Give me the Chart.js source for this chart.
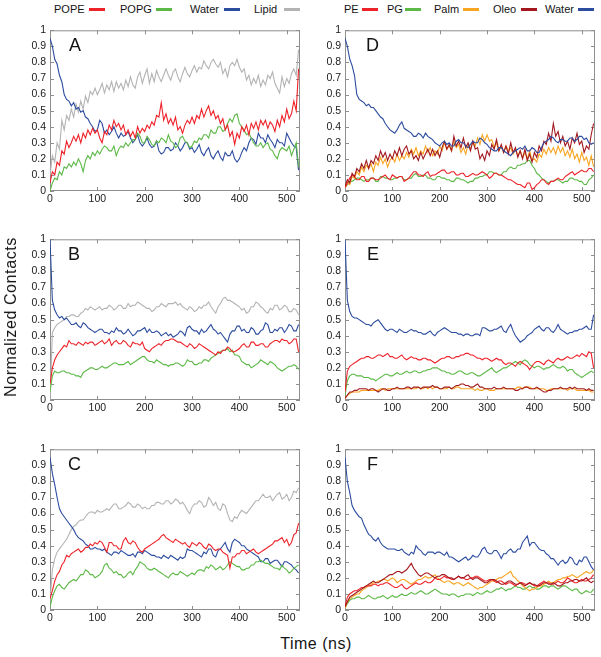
<!DOCTYPE html>
<html>
<head>
<meta charset="utf-8">
<script src="https://cdn.jsdelivr.net/npm/chart.js@4.4.1/dist/chart.umd.min.js"></script>
<style>
  body { margin:0; background:#fff; }
  #page { position:relative; width:601px; height:657px; font-family:"Liberation Sans", Arial, sans-serif; color:#141414; }
  canvas { position:absolute; }
  .lg { position:absolute; top:2px; font-size:11px; line-height:14px; white-space:nowrap; }
  .sw { position:absolute; top:8px; width:16px; height:3px; }
  .tag { position:absolute; font-size:18px; line-height:18px; }
</style>
</head>
<body>
<div id="page">
  <span class="lg" style="left:54px">POPE</span><span class="sw" style="left:89px;background:#ee2229"></span>
  <span class="lg" style="left:120px">POPG</span><span class="sw" style="left:156px;background:#5db947"></span>
  <span class="lg" style="left:190px">Water</span><span class="sw" style="left:224px;background:#2c4c9f"></span>
  <span class="lg" style="left:254px">Lipid</span><span class="sw" style="left:284px;background:#b3b3b3"></span>

  <span class="lg" style="left:344px">PE</span><span class="sw" style="left:362px;background:#ee2229"></span>
  <span class="lg" style="left:387px">PG</span><span class="sw" style="left:405px;background:#5db947"></span>
  <span class="lg" style="left:434px">Palm</span><span class="sw" style="left:463px;background:#f8a521"></span>
  <span class="lg" style="left:493px">Oleo</span><span class="sw" style="left:521px;background:#a3181e"></span>
  <span class="lg" style="left:545px">Water</span><span class="sw" style="left:578px;background:#2c4c9f"></span>

  <canvas id="cA" width="305" height="191" style="left:0;top:20px"></canvas>
  <canvas id="cB" width="305" height="191" style="left:0;top:229px"></canvas>
  <canvas id="cC" width="305" height="191" style="left:0;top:439px"></canvas>
  <canvas id="cD" width="305" height="191" style="left:295px;top:20px"></canvas>
  <canvas id="cE" width="305" height="191" style="left:295px;top:229px"></canvas>
  <canvas id="cF" width="305" height="191" style="left:295px;top:439px"></canvas>

  <div class="tag" style="left:69px;top:36px">A</div>
  <div class="tag" style="left:68px;top:245px">B</div>
  <div class="tag" style="left:68px;top:455px">C</div>
  <div class="tag" style="left:366px;top:36px">D</div>
  <div class="tag" style="left:367px;top:245px">E</div>
  <div class="tag" style="left:367px;top:455px">F</div>

  <div style="position:absolute;left:11px;top:317px;transform:translate(-50%,-50%) rotate(-90deg);font-size:16px;letter-spacing:0.6px;white-space:nowrap">Normalized Contacts</div>
  <div style="position:absolute;left:316px;top:644px;transform:translate(-50%,-50%);font-size:16px;letter-spacing:0.5px;white-space:nowrap">Time (ns)</div>
</div>
<script>
// time axis, ns (one sample every 5 ns)
const times = Array.from({length: 106}, (_, i) => i * 5);
const xTicks = [0, 100, 200, 300, 400, 500];

// panel A
const aPOPE = [0.05,0.12,0.1,0.18,0.16,0.25,0.23,0.31,0.27,0.3,
  0.34,0.31,0.35,0.3,0.36,0.33,0.38,0.35,0.39,0.36,
  0.38,0.33,0.3,0.37,0.35,0.41,0.38,0.44,0.4,0.42,
  0.38,0.41,0.35,0.38,0.34,0.37,0.33,0.4,0.36,0.39,
  0.37,0.41,0.39,0.43,0.41,0.47,0.46,0.55,0.44,0.48,
  0.42,0.45,0.41,0.46,0.38,0.4,0.36,0.41,0.44,0.42,
  0.46,0.42,0.47,0.45,0.51,0.46,0.5,0.53,0.47,0.5,
  0.45,0.47,0.42,0.45,0.38,0.41,0.34,0.37,0.29,0.36,
  0.33,0.4,0.37,0.41,0.35,0.42,0.39,0.43,0.38,0.44,
  0.41,0.44,0.39,0.43,0.41,0.37,0.44,0.4,0.47,0.43,
  0.51,0.45,0.48,0.56,0.5,0.76];
const aPOPG = [0,0.05,0.08,0.07,0.12,0.1,0.15,0.14,0.17,0.15,
  0.18,0.16,0.2,0.17,0.12,0.19,0.22,0.2,0.24,0.22,
  0.25,0.23,0.26,0.28,0.27,0.25,0.25,0.28,0.22,0.26,
  0.28,0.27,0.3,0.28,0.3,0.32,0.32,0.36,0.34,0.3,
  0.3,0.34,0.32,0.29,0.28,0.31,0.3,0.33,0.32,0.3,
  0.35,0.31,0.3,0.27,0.28,0.33,0.34,0.31,0.3,0.27,
  0.28,0.31,0.3,0.33,0.32,0.35,0.35,0.33,0.38,0.36,
  0.36,0.4,0.4,0.37,0.38,0.42,0.45,0.43,0.47,0.48,
  0.42,0.4,0.38,0.35,0.36,0.33,0.3,0.28,0.28,0.3,
  0.27,0.29,0.3,0.26,0.25,0.22,0.2,0.25,0.27,0.26,
  0.25,0.28,0.22,0.26,0.3,0.15];
const aWater = [0.95,0.9,0.82,0.79,0.72,0.68,0.6,0.57,0.56,0.53,
  0.55,0.51,0.52,0.49,0.5,0.46,0.45,0.42,0.4,0.37,
  0.38,0.44,0.42,0.36,0.38,0.35,0.37,0.4,0.36,0.33,
  0.36,0.34,0.35,0.37,0.33,0.3,0.32,0.35,0.3,0.28,
  0.3,0.33,0.29,0.27,0.28,0.31,0.25,0.23,0.24,0.27,
  0.27,0.25,0.26,0.3,0.28,0.25,0.27,0.3,0.3,0.26,
  0.27,0.24,0.26,0.29,0.24,0.22,0.25,0.27,0.22,0.2,
  0.23,0.25,0.21,0.19,0.24,0.22,0.22,0.25,0.2,0.18,
  0.2,0.24,0.27,0.25,0.3,0.33,0.32,0.29,0.36,0.33,
  0.33,0.3,0.35,0.32,0.3,0.27,0.32,0.3,0.3,0.28,
  0.36,0.33,0.3,0.28,0.27,0.13];
const aLipid = [0.1,0.22,0.18,0.3,0.26,0.44,0.38,0.47,0.44,0.51,
  0.46,0.54,0.49,0.56,0.51,0.59,0.55,0.62,0.6,0.64,
  0.6,0.63,0.67,0.61,0.66,0.63,0.68,0.62,0.68,0.64,
  0.67,0.63,0.69,0.65,0.71,0.66,0.64,0.71,0.74,0.67,
  0.72,0.76,0.67,0.73,0.68,0.75,0.71,0.68,0.72,0.76,
  0.72,0.69,0.74,0.76,0.71,0.68,0.73,0.77,0.73,0.71,
  0.75,0.78,0.74,0.77,0.76,0.81,0.78,0.76,0.8,0.82,
  0.79,0.77,0.8,0.73,0.76,0.71,0.78,0.8,0.78,0.82,
  0.77,0.74,0.76,0.69,0.72,0.66,0.7,0.67,0.72,0.65,
  0.69,0.66,0.72,0.7,0.74,0.67,0.64,0.61,0.71,0.65,
  0.7,0.67,0.73,0.76,0.72,0.88];

// panel B
const bPOPE = [0.1,0.2,0.25,0.28,0.3,0.32,0.34,0.33,0.37,0.35,
  0.35,0.34,0.36,0.35,0.34,0.36,0.35,0.36,0.36,0.34,
  0.35,0.36,0.37,0.35,0.36,0.38,0.34,0.36,0.37,0.35,
  0.35,0.37,0.36,0.34,0.33,0.36,0.35,0.35,0.34,0.36,
  0.32,0.31,0.3,0.32,0.33,0.34,0.35,0.34,0.36,0.37,
  0.37,0.38,0.38,0.37,0.36,0.36,0.35,0.34,0.33,0.35,
  0.34,0.32,0.33,0.35,0.34,0.33,0.32,0.31,0.3,0.29,
  0.28,0.3,0.29,0.31,0.31,0.33,0.32,0.3,0.3,0.31,
  0.32,0.34,0.35,0.33,0.33,0.36,0.36,0.34,0.34,0.35,
  0.35,0.33,0.33,0.35,0.36,0.37,0.37,0.36,0.38,0.37,
  0.37,0.35,0.36,0.38,0.38,0.3];
const bPOPG = [0.05,0.15,0.18,0.17,0.17,0.18,0.18,0.17,0.17,0.16,
  0.16,0.15,0.15,0.14,0.17,0.18,0.19,0.2,0.2,0.19,
  0.19,0.2,0.21,0.2,0.2,0.21,0.22,0.23,0.23,0.22,
  0.22,0.22,0.23,0.24,0.22,0.23,0.24,0.25,0.26,0.27,
  0.27,0.25,0.24,0.24,0.23,0.25,0.24,0.23,0.22,0.22,
  0.21,0.22,0.22,0.23,0.23,0.22,0.21,0.22,0.25,0.24,
  0.24,0.22,0.22,0.23,0.23,0.25,0.25,0.24,0.26,0.27,
  0.28,0.29,0.3,0.31,0.31,0.32,0.3,0.31,0.28,0.28,
  0.27,0.24,0.23,0.22,0.22,0.2,0.21,0.22,0.23,0.25,
  0.24,0.23,0.22,0.24,0.23,0.22,0.2,0.19,0.18,0.19,
  0.2,0.21,0.21,0.22,0.21,0.19];
const bWater = [1,0.62,0.56,0.53,0.51,0.52,0.5,0.51,0.49,0.47,
  0.47,0.48,0.46,0.45,0.48,0.47,0.45,0.44,0.43,0.42,
  0.43,0.44,0.44,0.42,0.42,0.41,0.43,0.42,0.45,0.43,
  0.43,0.41,0.42,0.44,0.42,0.4,0.41,0.43,0.43,0.44,
  0.45,0.42,0.44,0.42,0.42,0.43,0.42,0.4,0.41,0.42,
  0.4,0.41,0.39,0.4,0.41,0.43,0.42,0.4,0.45,0.46,
  0.44,0.43,0.43,0.41,0.44,0.42,0.43,0.45,0.47,0.44,
  0.43,0.41,0.42,0.4,0.38,0.36,0.41,0.43,0.43,0.46,
  0.46,0.43,0.44,0.42,0.42,0.45,0.44,0.41,0.41,0.43,
  0.44,0.48,0.47,0.42,0.42,0.44,0.43,0.45,0.45,0.42,
  0.44,0.47,0.46,0.43,0.43,0.47];
const bLipid = [0,0.42,0.45,0.47,0.48,0.49,0.5,0.52,0.52,0.53,
  0.53,0.52,0.52,0.54,0.55,0.57,0.56,0.58,0.57,0.56,
  0.57,0.58,0.56,0.57,0.57,0.59,0.58,0.56,0.57,0.59,
  0.59,0.57,0.57,0.6,0.58,0.59,0.59,0.61,0.6,0.59,
  0.58,0.57,0.57,0.55,0.56,0.58,0.58,0.6,0.59,0.58,
  0.6,0.6,0.6,0.61,0.59,0.6,0.58,0.57,0.56,0.58,
  0.57,0.55,0.56,0.58,0.57,0.59,0.59,0.61,0.58,0.56,
  0.54,0.58,0.6,0.63,0.64,0.62,0.62,0.61,0.6,0.59,
  0.58,0.56,0.57,0.54,0.55,0.58,0.58,0.61,0.6,0.58,
  0.57,0.55,0.54,0.57,0.56,0.59,0.59,0.56,0.57,0.59,
  0.58,0.55,0.55,0.57,0.56,0.53];

// panel C
const cPOPE = [0.07,0.12,0.18,0.22,0.24,0.28,0.3,0.34,0.33,0.35,
  0.36,0.37,0.38,0.36,0.37,0.39,0.39,0.41,0.4,0.42,
  0.41,0.43,0.42,0.39,0.36,0.42,0.42,0.4,0.4,0.38,
  0.38,0.43,0.45,0.42,0.41,0.43,0.42,0.39,0.37,0.36,
  0.38,0.39,0.4,0.41,0.42,0.43,0.44,0.46,0.47,0.45,
  0.44,0.43,0.42,0.44,0.43,0.42,0.41,0.42,0.4,0.39,
  0.42,0.41,0.4,0.42,0.41,0.39,0.38,0.41,0.4,0.38,
  0.37,0.38,0.38,0.36,0.35,0.34,0.26,0.33,0.33,0.35,
  0.35,0.37,0.37,0.35,0.36,0.37,0.38,0.36,0.35,0.36,
  0.37,0.38,0.39,0.4,0.41,0.43,0.43,0.44,0.45,0.42,
  0.44,0.4,0.42,0.47,0.48,0.54];
const cPOPG = [0.02,0.08,0.12,0.15,0.16,0.14,0.13,0.15,0.17,0.18,
  0.19,0.18,0.2,0.22,0.22,0.25,0.24,0.22,0.22,0.2,
  0.21,0.22,0.24,0.28,0.29,0.26,0.25,0.23,0.24,0.22,
  0.22,0.2,0.21,0.23,0.24,0.22,0.25,0.27,0.3,0.29,
  0.28,0.26,0.25,0.25,0.26,0.25,0.24,0.23,0.22,0.21,
  0.2,0.22,0.23,0.22,0.22,0.24,0.23,0.22,0.21,0.22,
  0.23,0.22,0.24,0.25,0.25,0.24,0.27,0.26,0.28,0.27,
  0.25,0.26,0.27,0.25,0.26,0.28,0.3,0.29,0.28,0.27,
  0.27,0.25,0.25,0.26,0.26,0.28,0.28,0.3,0.3,0.31,
  0.3,0.29,0.29,0.28,0.27,0.26,0.26,0.25,0.28,0.26,
  0.25,0.23,0.24,0.26,0.27,0.28];
const cWater = [0.95,0.85,0.78,0.7,0.63,0.6,0.58,0.56,0.54,0.52,
  0.5,0.47,0.45,0.44,0.43,0.41,0.4,0.38,0.38,0.39,
  0.38,0.38,0.37,0.38,0.36,0.35,0.34,0.36,0.36,0.35,
  0.37,0.36,0.35,0.34,0.34,0.35,0.33,0.36,0.36,0.35,
  0.37,0.36,0.35,0.34,0.34,0.33,0.33,0.32,0.34,0.33,
  0.32,0.34,0.33,0.32,0.31,0.33,0.32,0.33,0.38,0.37,
  0.37,0.36,0.35,0.34,0.33,0.36,0.35,0.38,0.38,0.34,
  0.33,0.37,0.38,0.4,0.42,0.38,0.36,0.42,0.44,0.43,
  0.42,0.4,0.4,0.38,0.37,0.36,0.35,0.34,0.33,0.3,
  0.3,0.32,0.32,0.29,0.3,0.31,0.31,0.29,0.27,0.3,
  0.3,0.29,0.28,0.26,0.25,0.23];
const cLipid = [0.05,0.25,0.32,0.36,0.38,0.4,0.42,0.44,0.47,0.5,
  0.52,0.53,0.55,0.56,0.56,0.58,0.6,0.61,0.61,0.6,
  0.62,0.61,0.61,0.62,0.63,0.62,0.64,0.66,0.66,0.63,
  0.63,0.64,0.65,0.67,0.66,0.64,0.64,0.66,0.65,0.63,
  0.64,0.63,0.63,0.65,0.65,0.67,0.67,0.66,0.66,0.68,
  0.68,0.66,0.67,0.69,0.68,0.66,0.67,0.65,0.62,0.6,
  0.64,0.66,0.66,0.68,0.67,0.64,0.65,0.7,0.68,0.65,
  0.67,0.63,0.62,0.66,0.65,0.6,0.56,0.55,0.58,0.57,
  0.6,0.62,0.61,0.6,0.62,0.64,0.66,0.68,0.68,0.7,
  0.72,0.7,0.7,0.71,0.68,0.7,0.72,0.73,0.69,0.7,
  0.72,0.68,0.7,0.74,0.73,0.76];

// panel D
const dPE = [0.02,0.05,0.08,0.1,0.09,0.07,0.07,0.09,0.09,0.06,
  0.06,0.08,0.08,0.07,0.07,0.08,0.09,0.1,0.08,0.07,
  0.1,0.09,0.08,0.09,0.09,0.06,0.07,0.08,0.1,0.12,
  0.12,0.1,0.1,0.09,0.11,0.12,0.09,0.1,0.1,0.11,
  0.12,0.13,0.13,0.11,0.11,0.12,0.12,0.1,0.1,0.11,
  0.11,0.09,0.09,0.1,0.11,0.1,0.1,0.11,0.12,0.11,
  0.1,0.08,0.09,0.11,0.11,0.1,0.1,0.09,0.08,0.07,
  0.07,0.06,0.05,0.04,0.04,0.03,0.02,0.05,0.05,0.01,
  0.02,0.04,0.05,0.07,0.07,0.05,0.04,0.06,0.06,0.07,
  0.08,0.07,0.07,0.09,0.1,0.11,0.12,0.1,0.11,0.12,
  0.13,0.12,0.12,0.14,0.14,0.12];
const dPG = [0.02,0.04,0.06,0.06,0.07,0.08,0.08,0.07,0.06,0.07,
  0.07,0.08,0.08,0.06,0.06,0.09,0.09,0.08,0.08,0.07,
  0.07,0.08,0.08,0.09,0.09,0.07,0.07,0.08,0.08,0.1,
  0.11,0.09,0.09,0.1,0.1,0.08,0.08,0.07,0.07,0.09,
  0.09,0.08,0.08,0.07,0.07,0.06,0.06,0.08,0.08,0.07,
  0.07,0.06,0.05,0.06,0.06,0.08,0.08,0.09,0.09,0.1,
  0.1,0.12,0.12,0.11,0.11,0.1,0.1,0.12,0.12,0.14,
  0.15,0.14,0.14,0.16,0.16,0.17,0.17,0.19,0.19,0.16,
  0.14,0.11,0.1,0.08,0.07,0.06,0.05,0.06,0.06,0.07,
  0.07,0.06,0.05,0.06,0.06,0.08,0.08,0.07,0.07,0.06,
  0.06,0.04,0.04,0.07,0.08,0.1];
const dPalm = [0.02,0.05,0.04,0.09,0.08,0.12,0.1,0.15,0.12,0.16,
  0.14,0.17,0.12,0.18,0.16,0.21,0.17,0.2,0.15,0.19,
  0.21,0.18,0.23,0.19,0.22,0.2,0.24,0.21,0.26,0.23,
  0.27,0.22,0.25,0.23,0.28,0.24,0.27,0.22,0.25,0.23,
  0.28,0.25,0.3,0.26,0.28,0.25,0.31,0.27,0.29,0.24,
  0.27,0.23,0.29,0.26,0.31,0.28,0.33,0.29,0.35,0.31,
  0.35,0.31,0.32,0.27,0.3,0.25,0.28,0.24,0.28,0.25,
  0.27,0.23,0.26,0.22,0.25,0.21,0.24,0.2,0.25,0.19,
  0.2,0.18,0.23,0.21,0.26,0.23,0.27,0.24,0.27,0.23,
  0.28,0.24,0.27,0.22,0.25,0.21,0.26,0.2,0.23,0.18,
  0.24,0.19,0.21,0.16,0.22,0.15];
const dOleo = [0.03,0.07,0.05,0.11,0.09,0.14,0.12,0.17,0.14,0.19,
  0.14,0.19,0.17,0.22,0.19,0.25,0.21,0.24,0.19,0.23,
  0.2,0.25,0.22,0.27,0.22,0.26,0.28,0.23,0.25,0.2,
  0.22,0.19,0.24,0.2,0.23,0.26,0.22,0.26,0.22,0.25,
  0.21,0.27,0.31,0.26,0.29,0.25,0.34,0.28,0.31,0.27,
  0.33,0.27,0.3,0.25,0.31,0.26,0.27,0.2,0.23,0.19,
  0.25,0.22,0.29,0.26,0.32,0.25,0.29,0.24,0.28,0.23,
  0.3,0.24,0.27,0.21,0.25,0.2,0.26,0.19,0.23,0.18,
  0.24,0.21,0.28,0.25,0.31,0.29,0.36,0.31,0.42,0.34,
  0.37,0.3,0.34,0.28,0.31,0.26,0.33,0.3,0.36,0.29,
  0.31,0.24,0.28,0.26,0.35,0.42];
const dWater = [0.95,0.9,0.82,0.78,0.72,0.6,0.57,0.56,0.55,0.53,
  0.54,0.52,0.52,0.5,0.48,0.46,0.45,0.42,0.4,0.38,
  0.37,0.36,0.38,0.41,0.43,0.39,0.38,0.37,0.36,0.34,
  0.34,0.36,0.35,0.33,0.36,0.34,0.33,0.32,0.3,0.29,
  0.28,0.3,0.31,0.29,0.3,0.28,0.28,0.31,0.32,0.3,
  0.3,0.28,0.27,0.29,0.31,0.3,0.3,0.33,0.32,0.3,
  0.29,0.27,0.26,0.25,0.25,0.27,0.27,0.25,0.24,0.23,
  0.22,0.24,0.25,0.26,0.27,0.26,0.28,0.25,0.25,0.27,
  0.26,0.24,0.24,0.27,0.3,0.31,0.32,0.34,0.33,0.31,
  0.3,0.32,0.32,0.31,0.31,0.33,0.33,0.31,0.32,0.34,
  0.34,0.32,0.33,0.3,0.29,0.3];

// panel E
const ePE = [0.05,0.18,0.21,0.22,0.23,0.24,0.25,0.26,0.26,0.27,
  0.27,0.26,0.26,0.27,0.28,0.28,0.27,0.28,0.29,0.27,
  0.27,0.26,0.26,0.27,0.28,0.26,0.25,0.26,0.27,0.26,
  0.26,0.25,0.25,0.26,0.26,0.25,0.25,0.24,0.23,0.24,
  0.25,0.26,0.26,0.27,0.27,0.26,0.26,0.27,0.27,0.28,
  0.28,0.29,0.29,0.28,0.28,0.27,0.26,0.26,0.25,0.26,
  0.26,0.25,0.24,0.25,0.26,0.25,0.25,0.23,0.22,0.23,
  0.23,0.22,0.21,0.23,0.24,0.23,0.22,0.21,0.19,0.21,
  0.23,0.24,0.24,0.23,0.22,0.24,0.25,0.24,0.23,0.25,
  0.26,0.25,0.25,0.26,0.27,0.26,0.26,0.27,0.28,0.27,
  0.29,0.28,0.27,0.3,0.29,0.2];
const ePG = [0.03,0.12,0.15,0.16,0.16,0.15,0.15,0.15,0.14,0.14,
  0.14,0.13,0.13,0.12,0.13,0.14,0.15,0.16,0.16,0.15,
  0.15,0.16,0.17,0.16,0.16,0.17,0.18,0.17,0.17,0.18,
  0.18,0.17,0.17,0.18,0.18,0.19,0.19,0.2,0.2,0.2,
  0.19,0.18,0.18,0.17,0.17,0.16,0.16,0.17,0.18,0.18,
  0.17,0.16,0.16,0.17,0.17,0.16,0.15,0.15,0.16,0.17,
  0.18,0.19,0.2,0.18,0.17,0.18,0.19,0.2,0.2,0.21,
  0.22,0.23,0.24,0.23,0.22,0.24,0.25,0.24,0.22,0.21,
  0.2,0.21,0.21,0.2,0.19,0.2,0.2,0.21,0.22,0.21,
  0.2,0.2,0.21,0.2,0.18,0.19,0.19,0.17,0.16,0.15,
  0.14,0.15,0.16,0.17,0.18,0.17];
const ePalm = [0.01,0.03,0.04,0.05,0.05,0.05,0.05,0.06,0.06,0.06,
  0.06,0.06,0.06,0.06,0.06,0.07,0.07,0.06,0.07,0.07,
  0.07,0.07,0.07,0.07,0.07,0.07,0.07,0.07,0.07,0.07,
  0.07,0.08,0.07,0.07,0.08,0.07,0.08,0.07,0.08,0.08,
  0.07,0.07,0.07,0.07,0.08,0.07,0.07,0.08,0.08,0.07,
  0.07,0.07,0.07,0.07,0.07,0.06,0.07,0.06,0.06,0.07,
  0.07,0.06,0.06,0.06,0.07,0.07,0.07,0.07,0.07,0.07,
  0.07,0.07,0.07,0.08,0.08,0.07,0.08,0.08,0.08,0.07,
  0.07,0.07,0.07,0.07,0.07,0.06,0.06,0.07,0.07,0.07,
  0.07,0.07,0.07,0.07,0.06,0.07,0.07,0.07,0.06,0.06,
  0.06,0.06,0.06,0.06,0.05,0.05];
const eOleo = [0.01,0.03,0.05,0.05,0.06,0.06,0.07,0.07,0.07,0.07,
  0.06,0.07,0.07,0.06,0.05,0.06,0.07,0.07,0.06,0.06,
  0.07,0.07,0.08,0.07,0.07,0.07,0.08,0.08,0.07,0.08,
  0.08,0.08,0.07,0.08,0.08,0.08,0.08,0.09,0.08,0.08,
  0.07,0.07,0.08,0.08,0.08,0.07,0.08,0.09,0.09,0.1,
  0.1,0.09,0.09,0.08,0.08,0.09,0.1,0.08,0.08,0.07,
  0.07,0.07,0.07,0.08,0.07,0.07,0.07,0.08,0.07,0.07,
  0.07,0.07,0.06,0.06,0.07,0.07,0.08,0.08,0.07,0.07,
  0.07,0.08,0.07,0.06,0.05,0.05,0.06,0.06,0.07,0.07,
  0.07,0.08,0.07,0.07,0.07,0.08,0.07,0.08,0.07,0.07,
  0.07,0.07,0.06,0.07,0.06,0.06];
const eWater = [1,0.62,0.55,0.52,0.51,0.51,0.5,0.49,0.48,0.47,
  0.47,0.46,0.48,0.49,0.5,0.48,0.46,0.44,0.43,0.44,
  0.44,0.43,0.42,0.44,0.43,0.42,0.42,0.43,0.44,0.43,
  0.43,0.42,0.42,0.41,0.41,0.42,0.43,0.41,0.4,0.42,
  0.43,0.44,0.45,0.44,0.43,0.42,0.42,0.42,0.41,0.41,
  0.4,0.41,0.41,0.4,0.4,0.41,0.41,0.4,0.45,0.45,
  0.44,0.43,0.43,0.44,0.44,0.45,0.46,0.43,0.42,0.45,
  0.47,0.43,0.4,0.38,0.36,0.37,0.38,0.4,0.41,0.42,
  0.44,0.45,0.46,0.44,0.43,0.45,0.45,0.43,0.42,0.44,
  0.47,0.44,0.43,0.42,0.41,0.42,0.42,0.43,0.43,0.44,
  0.44,0.45,0.46,0.44,0.44,0.53];

// panel F
const fPE = [0.02,0.08,0.1,0.11,0.12,0.12,0.13,0.14,0.14,0.15,
  0.15,0.15,0.16,0.16,0.15,0.16,0.16,0.17,0.17,0.16,
  0.15,0.14,0.14,0.15,0.16,0.14,0.13,0.14,0.15,0.16,
  0.17,0.16,0.16,0.17,0.18,0.17,0.17,0.18,0.2,0.19,
  0.19,0.2,0.21,0.2,0.2,0.19,0.19,0.2,0.21,0.2,
  0.2,0.19,0.19,0.2,0.2,0.21,0.21,0.2,0.19,0.18,
  0.18,0.19,0.19,0.18,0.17,0.18,0.18,0.17,0.16,0.17,
  0.17,0.16,0.15,0.16,0.17,0.17,0.16,0.16,0.17,0.16,
  0.15,0.15,0.16,0.17,0.18,0.17,0.17,0.16,0.16,0.17,
  0.18,0.17,0.17,0.18,0.2,0.19,0.18,0.17,0.17,0.18,
  0.19,0.18,0.18,0.19,0.2,0.22];
const fPG = [0.01,0.04,0.06,0.07,0.07,0.08,0.08,0.07,0.07,0.08,
  0.09,0.08,0.07,0.07,0.08,0.08,0.09,0.08,0.07,0.08,
  0.09,0.08,0.08,0.09,0.1,0.09,0.09,0.1,0.11,0.1,
  0.1,0.11,0.12,0.11,0.1,0.1,0.11,0.12,0.13,0.12,
  0.11,0.1,0.1,0.1,0.09,0.1,0.1,0.09,0.08,0.09,
  0.09,0.1,0.1,0.1,0.09,0.1,0.11,0.1,0.1,0.11,
  0.12,0.11,0.11,0.12,0.13,0.13,0.14,0.13,0.12,0.13,
  0.13,0.14,0.15,0.14,0.14,0.13,0.13,0.14,0.15,0.14,
  0.14,0.13,0.13,0.14,0.15,0.15,0.14,0.15,0.15,0.14,
  0.13,0.14,0.15,0.15,0.14,0.13,0.12,0.13,0.13,0.11,
  0.1,0.11,0.12,0.11,0.11,0.13];
const fPalm = [0.01,0.05,0.07,0.08,0.09,0.1,0.1,0.12,0.13,0.14,
  0.15,0.16,0.17,0.17,0.18,0.18,0.19,0.19,0.18,0.19,
  0.2,0.19,0.17,0.18,0.19,0.19,0.18,0.17,0.16,0.17,
  0.18,0.19,0.19,0.2,0.21,0.2,0.2,0.21,0.22,0.2,
  0.19,0.18,0.17,0.18,0.18,0.17,0.16,0.17,0.17,0.16,
  0.15,0.16,0.17,0.16,0.15,0.14,0.13,0.14,0.14,0.15,
  0.16,0.17,0.18,0.18,0.19,0.2,0.2,0.21,0.22,0.23,
  0.24,0.21,0.2,0.18,0.17,0.15,0.14,0.13,0.12,0.13,
  0.13,0.14,0.15,0.15,0.16,0.17,0.18,0.17,0.17,0.18,
  0.19,0.19,0.2,0.2,0.21,0.21,0.22,0.21,0.2,0.21,
  0.22,0.23,0.24,0.23,0.23,0.25];
const fOleo = [0.02,0.05,0.08,0.09,0.1,0.11,0.12,0.13,0.14,0.15,
  0.16,0.17,0.18,0.17,0.17,0.18,0.19,0.2,0.21,0.22,
  0.22,0.23,0.24,0.24,0.23,0.24,0.25,0.27,0.29,0.26,
  0.24,0.22,0.21,0.22,0.23,0.23,0.22,0.21,0.2,0.21,
  0.21,0.22,0.22,0.21,0.2,0.2,0.19,0.2,0.21,0.2,
  0.2,0.21,0.22,0.2,0.19,0.2,0.2,0.19,0.18,0.17,
  0.17,0.18,0.19,0.19,0.18,0.17,0.16,0.16,0.17,0.18,
  0.18,0.17,0.16,0.16,0.17,0.16,0.15,0.16,0.17,0.16,
  0.16,0.15,0.15,0.16,0.17,0.17,0.16,0.16,0.17,0.16,
  0.15,0.15,0.16,0.17,0.17,0.18,0.18,0.19,0.19,0.18,
  0.18,0.19,0.2,0.18,0.17,0.18];
const fWater = [0.95,0.8,0.73,0.65,0.62,0.6,0.58,0.57,0.53,0.5,
  0.47,0.46,0.44,0.43,0.45,0.42,0.4,0.39,0.38,0.38,
  0.38,0.38,0.37,0.37,0.38,0.36,0.35,0.34,0.36,0.35,
  0.4,0.38,0.37,0.35,0.34,0.36,0.36,0.36,0.35,0.36,
  0.36,0.35,0.34,0.36,0.33,0.33,0.32,0.31,0.3,0.31,
  0.32,0.33,0.31,0.32,0.34,0.33,0.33,0.35,0.38,0.39,
  0.36,0.35,0.35,0.37,0.37,0.35,0.32,0.35,0.35,0.37,
  0.38,0.36,0.36,0.38,0.38,0.42,0.44,0.46,0.4,0.42,
  0.42,0.4,0.38,0.37,0.37,0.35,0.34,0.32,0.32,0.3,
  0.28,0.3,0.31,0.29,0.3,0.33,0.32,0.29,0.28,0.31,
  0.3,0.33,0.33,0.3,0.27,0.25];

const RED = '#ee2229', GREEN = '#5db947', BLUE = '#2c4c9f', GREY = '#b3b3b3', ORANGE = '#f8a521', DARKRED = '#a3181e';

// box round the plot with short inward ticks on all four sides
const framePlugin = {
  id: 'frame',
  beforeDatasetsDraw(chart) {
    const { ctx, chartArea: { left, right, top, bottom }, scales: { x, y } } = chart;
    ctx.save();
    ctx.strokeStyle = '#8e8e8e';
    ctx.lineWidth = 1;
    ctx.strokeRect(left + 0.5, top + 0.5, right - left - 1, bottom - top - 1);
    ctx.beginPath();
    x.ticks.forEach(t => {
      const px = Math.round(x.getPixelForValue(t.value)) + 0.5;
      ctx.moveTo(px, bottom); ctx.lineTo(px, bottom - 4);
      ctx.moveTo(px, top); ctx.lineTo(px, top + 4);
    });
    y.ticks.forEach(t => {
      const py = Math.round(y.getPixelForValue(t.value)) + 0.5;
      ctx.moveTo(left, py); ctx.lineTo(left + 4, py);
      ctx.moveTo(right, py); ctx.lineTo(right - 4, py);
    });
    ctx.stroke();
    ctx.restore();
  }
};

function line(values, color) {
  return {
    data: values.map((v, i) => ({ x: times[i], y: v })),
    borderColor: color,
    borderWidth: 1.1,
    pointRadius: 0,
    tension: 0,
    fill: false
  };
}

function panel(id, datasets) {
  new Chart(document.getElementById(id), {
    type: 'line',
    data: { datasets: datasets },
    options: {
      responsive: false,
      animation: false,
      layout: { padding: { top: 8, right: 5, left: 0, bottom: 0 } },
      plugins: { legend: { display: false }, tooltip: { enabled: false } },
      scales: {
        x: {
          type: 'linear', min: 0, max: 528,
          grid: { display: false, drawTicks: false },
          border: { display: false },
          afterBuildTicks: s => { s.ticks = xTicks.map(v => ({ value: v })); },
          afterFit: s => { s.height = 20; },
          ticks: { padding: 2, color: '#1a1a1a', maxRotation: 0, autoSkip: false,
                   font: { family: 'Liberation Sans', size: 10.5 } }
        },
        y: {
          min: 0, max: 1,
          grid: { display: false, drawTicks: false },
          border: { display: false },
          afterFit: s => { s.width = 50; },
          ticks: { stepSize: 0.1, padding: 4, autoSkip: false, color: '#1a1a1a',
                   font: { family: 'Liberation Sans', size: 10.5 },
                   callback: v => String(Number(v.toFixed(1))) }
        }
      }
    },
    plugins: [framePlugin]
  });
}

panel('cA', [line(aPOPE, RED), line(aPOPG, GREEN), line(aWater, BLUE), line(aLipid, GREY)]);
panel('cB', [line(bPOPE, RED), line(bPOPG, GREEN), line(bWater, BLUE), line(bLipid, GREY)]);
panel('cC', [line(cPOPE, RED), line(cPOPG, GREEN), line(cWater, BLUE), line(cLipid, GREY)]);
panel('cD', [line(dWater, BLUE), line(dOleo, DARKRED), line(dPE, RED), line(dPalm, ORANGE), line(dPG, GREEN)]);
panel('cE', [line(eWater, BLUE), line(eOleo, DARKRED), line(ePalm, ORANGE), line(ePE, RED), line(ePG, GREEN)]);
panel('cF', [line(fWater, BLUE), line(fOleo, DARKRED), line(fPE, RED), line(fPalm, ORANGE), line(fPG, GREEN)]);
</script>
</body>
</html>
